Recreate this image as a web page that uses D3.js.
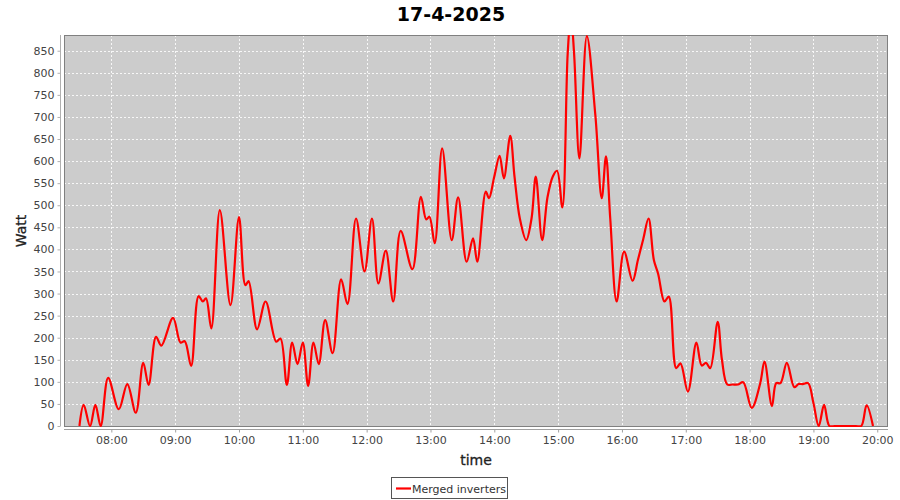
<!DOCTYPE html>
<html>
<head>
<meta charset="utf-8">
<script src="https://cdn.jsdelivr.net/npm/d3@7"></script>
<style>
  html, body { margin: 0; padding: 0; background: #fff; }
  svg { display: block; font-family: "DejaVu Sans", sans-serif; }
</style>
</head>
<body>
<svg id="chart" width="900" height="500"></svg>
<script>
// ---- data ----
const chartTitle = "17-4-2025";
const seriesName = "Merged inverters";
const times = ["07:30","07:34","07:40","07:45","07:50","07:57","08:07","08:15","08:23","08:30",
  "08:35","08:42","08:47","08:58","09:05","09:09","09:15","09:22","09:26","09:29",
  "09:34","09:42","09:52","10:00","10:06","10:09","10:17","10:25","10:35","10:39",
  "10:45","10:50","10:55","11:00","11:05","11:10","11:15","11:21","11:28","11:36",
  "11:42","11:50","11:58","12:05","12:11","12:18","12:25","12:32","12:43","12:51",
  "12:56","12:59","13:04","13:11","13:20","13:26","13:34","13:40","13:44","13:52",
  "13:55","14:00","14:05","14:09","14:15","14:19","14:24","14:30","14:35","14:39",
  "14:45","14:50","14:55","14:59","15:04","15:09","15:12","15:15","15:20","15:27",
  "15:35","15:41","15:45","15:49","15:55","16:02","16:10","16:15","16:20","16:25",
  "16:30","16:34","16:40","16:44","16:51","16:55","17:02","17:10","17:15","17:19",
  "17:23","17:30","17:34","17:39","17:44","17:49","17:54","18:02","18:10","18:14",
  "18:21","18:25","18:29","18:35","18:42","18:46","18:50","18:55","19:00","19:05",
  "19:10","19:15","19:20","19:25","19:30","19:35","19:40","19:45","19:50","19:56"];
const watts = [0,48,0,48,0,109,38,95,30,143,
  93,202,182,245,189,192,136,294,282,289,
  221,489,274,473,319,328,219,282,191,198,
  93,189,140,189,91,189,140,240,165,332,
  276,470,350,470,323,397,282,442,355,519,
  468,474,414,629,421,518,372,425,372,531,
  516,565,612,561,657,565,470,421,470,565,
  421,518,565,578,495,844,930,844,606,883,
  704,516,611,470,282,395,329,376,423,470,
  376,345,282,293,131,142,78,189,137,143,
  131,236,150,94,94,94,99,41,97,146,
  45,97,97,143,88,95,95,97,52,0,
  48,0,0,0,0,0,0,0,47,0];
const yTicks = [0,50,100,150,200,250,300,350,400,450,500,550,600,650,700,750,800,850];
const xTickHours = [8,9,10,11,12,13,14,15,16,17,18,19,20];
const xDomain = ["07:15:30", "20:10:06"];
const yMax = 885.6;
const xLabel = "time";
const yLabel = "Watt";

// ---- layout ----
const svg = d3.select("#chart");
const plot = { left: 64, top: 35, right: 888, bottom: 426 };
const day = "2025-04-17T";
const parse = s => new Date(day + (s.length === 5 ? s + ":00" : s));

const x = d3.scaleTime()
  .domain(xDomain.map(parse))
  .range([plot.left, plot.right]);
const y = d3.scaleLinear()
  .domain([0, yMax])
  .range([plot.bottom, plot.top]);

const data = times.map((t, i) => ({ t: parse(t), v: watts[i] }));

// title
svg.append("text")
  .attr("x", 451).attr("y", 21)
  .attr("text-anchor", "middle")
  .attr("font-size", 19).attr("font-weight", "bold")
  .attr("fill", "#000")
  .text(chartTitle);

// plot background
svg.append("rect")
  .attr("x", plot.left).attr("y", plot.top)
  .attr("width", plot.right - plot.left).attr("height", plot.bottom - plot.top)
  .attr("fill", "#cccccc");

// gridlines
const grid = svg.append("g").attr("stroke", "#ffffff").attr("stroke-width", 1)
  .attr("stroke-dasharray", "2,2").attr("opacity", 0.85);
grid.selectAll("line.h").data(yTicks).enter().append("line")
  .attr("x1", plot.left).attr("x2", plot.right)
  .attr("y1", d => Math.round(y(d)) + 0.5).attr("y2", d => Math.round(y(d)) + 0.5);
const hourDates = xTickHours.map(h => parse((h < 10 ? "0" : "") + h + ":00"));
grid.selectAll("line.v").data(hourDates).enter().append("line")
  .attr("y1", plot.top).attr("y2", plot.bottom)
  .attr("x1", d => Math.round(x(d)) + 0.5).attr("x2", d => Math.round(x(d)) + 0.5);

// plot outline
svg.append("rect")
  .attr("x", plot.left + 0.5).attr("y", plot.top + 0.5)
  .attr("width", plot.right - plot.left - 1).attr("height", plot.bottom - plot.top)
  .attr("fill", "none").attr("stroke", "#808080").attr("stroke-width", 1);

// clip
svg.append("clipPath").attr("id", "clip").append("rect")
  .attr("x", plot.left).attr("y", plot.top)
  .attr("width", plot.right - plot.left).attr("height", plot.bottom - plot.top + 1);

// line
const line = d3.line()
  .x(d => x(d.t)).y(d => y(d.v))
  .curve(d3.curveCatmullRom.alpha(0.5));
svg.append("path")
  .datum(data)
  .attr("clip-path", "url(#clip)")
  .attr("fill", "none")
  .attr("stroke", "#ff0000")
  .attr("stroke-width", 2.2)
  .attr("stroke-linejoin", "round")
  .attr("d", line);

// y axis
const yAxis = d3.axisLeft(y).tickValues(yTicks).tickSize(3).tickPadding(3);
const gy = svg.append("g").attr("transform", "translate(60.5,0)").call(yAxis);
gy.select(".domain").attr("stroke", "#b0b0b0").attr("d", `M0,${plot.top}V${plot.bottom}`);
gy.selectAll(".tick line").attr("stroke", "#b0b0b0");
gy.selectAll("text").attr("font-size", 11).attr("fill", "#444")
  .attr("font-family", "DejaVu Sans, sans-serif");

// x axis
const xAxis = d3.axisBottom(x).tickValues(hourDates).tickFormat(d3.timeFormat("%H:%M"))
  .tickSize(3).tickPadding(4);
const gx = svg.append("g").attr("transform", "translate(0,429.5)").call(xAxis);
gx.select(".domain").attr("stroke", "#a0a0a0").attr("d", `M${plot.left},0H${plot.right}`);
gx.selectAll(".tick line").attr("stroke", "#a0a0a0");
gx.selectAll("text").attr("font-size", 11).attr("fill", "#444")
  .attr("font-family", "DejaVu Sans, sans-serif");

// axis labels
svg.append("text")
  .attr("x", 476).attr("y", 465)
  .attr("text-anchor", "middle")
  .attr("font-size", 14).attr("fill", "#222")
  .attr("stroke", "#222").attr("stroke-width", 0.3)
  .text(xLabel);
svg.append("text")
  .attr("transform", "translate(26,231) rotate(-90)")
  .attr("text-anchor", "middle")
  .attr("font-size", 14).attr("fill", "#222")
  .attr("stroke", "#222").attr("stroke-width", 0.3)
  .text(yLabel);

// legend
const lg = svg.append("g");
lg.append("rect")
  .attr("x", 391.5).attr("y", 477.5).attr("width", 116).attr("height", 21)
  .attr("fill", "#fff").attr("stroke", "#555").attr("stroke-width", 1);
lg.append("line")
  .attr("x1", 396).attr("x2", 411).attr("y1", 488.5).attr("y2", 488.5)
  .attr("stroke", "#ff0000").attr("stroke-width", 2.2);
lg.append("text")
  .attr("x", 412).attr("y", 492.5)
  .attr("font-size", 11).attr("fill", "#333")
  .text(seriesName);
</script>
</body>
</html>
